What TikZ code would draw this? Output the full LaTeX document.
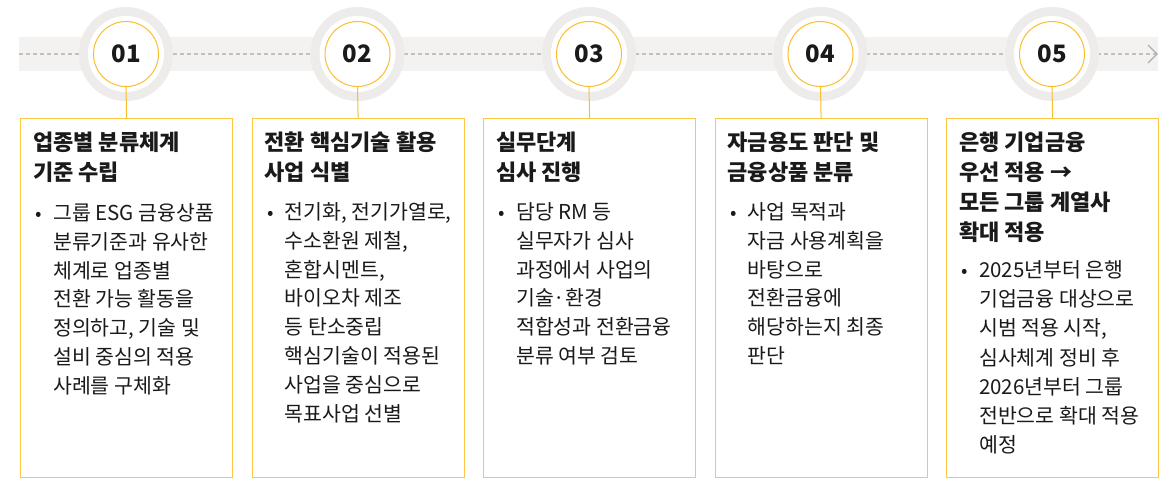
\documentclass[tikz,border=0pt]{standalone}
\usepackage{fontspec}
\setmainfont{Noto Sans CJK KR}
\definecolor{kbyellow}{HTML}{FBBE2E}
\definecolor{boxyellow}{HTML}{FDC743}
\definecolor{bandgrey}{HTML}{F3F2F0}
\definecolor{ringgrey}{HTML}{EDECEA}
\definecolor{dashgrey}{HTML}{C2C0BD}
\definecolor{txt}{HTML}{1A1A1A}
\tikzset{
  ring/.style={circle, fill=ringgrey, minimum size=94pt, inner sep=0pt},
  gap/.style={circle, fill=white, minimum size=76pt, inner sep=0pt},
  numcircle/.style={circle, draw=kbyellow, line width=1pt, fill=white, minimum size=65pt, inner sep=0pt,
    font=\fontsize{24}{24}\selectfont\bfseries, text=txt},
  stepbox/.style={rectangle, draw=boxyellow, line width=1.2pt, minimum width=212pt, minimum height=359pt, inner sep=0pt, anchor=north west},
  link/.style={draw=kbyellow, line width=1pt},
  titletext/.style={anchor=base west, align=left, inner sep=0pt, text=txt, font=\fontsize{22}{30}\selectfont\bfseries},
  bodytext/.style={anchor=base west, align=left, inner sep=0pt, text=txt, font=\fontsize{20.5}{28.8}\selectfont},
  bodytextb/.style={bodytext, font=\fontsize{20.5}{29.2}\selectfont},
  bulletmark/.style={anchor=base, inner sep=0pt, text=txt, font=\fontsize{19}{28.8}\selectfont},
  dashline/.style={draw=dashgrey, line width=1.3pt, dash pattern=on 4pt off 3pt},
  chev/.style={draw=dashgrey!90!black, line width=1.2pt}
}
\begin{document}
\begin{tikzpicture}[x=1pt,y=-1pt]
\useasboundingbox (0,0) rectangle (1174,484);
\fill[white] (0,0) rectangle (1174,484);
% band and dashed timeline
\fill[bandgrey] (19,37) rectangle (1158,71);
\coordinate (ls) at (19,54);
\coordinate (le) at (1157,54);
\coordinate (cvt) at (1148,45);
\coordinate (cvb) at (1148,63);
\draw[dashline] (ls) -- (le);
\draw[chev] (cvt) -- (le) -- (cvb);

% circles
\foreach \x/\n [count=\i] in {126/01,357.5/02,589/03,820.5/04,1052/05}{
  \node[ring] (r\i) at (\x,54) {};
  \node[gap] (g\i) at (\x,54) {};
  \node[numcircle] (c\i) at (\x,54) {\n};
}

% boxes
\node[stepbox] (b1) at (20,118) {};
\node[stepbox] (b2) at (251.5,118) {};
\node[stepbox] (b3) at (483,118) {};
\node[stepbox] (b4) at (714.5,118) {};
\node[stepbox] (b5) at (946,118) {};

\foreach \i in {1,...,5}{
  \draw[link] (c\i.south) -- (b\i.north);
}

% box 1 (base anchor = last line baseline)
\node[titletext] (t1) at (33,180) {업종별 분류체계\\기준 수립};
\node[bulletmark] (u1) at (39,220) {•};
\node[bodytext] (d1) at (53,393.3) {그룹 ESG 금융상품\\분류기준과 유사한\\체계로 업종별\\전환 가능 활동을\\정의하고, 기술 및\\설비 중심의 적용\\사례를 구체화};

% box 2
\node[titletext] (t2) at (264.5,180) {전환 핵심기술 활용\\사업 식별};
\node[bulletmark] (u2) at (270.5,219) {•};
\node[bodytext] (d2) at (284.5,421.1) {전기화, 전기가열로,\\수소환원 제철,\\혼합시멘트,\\바이오차 제조\\등 탄소중립\\핵심기술이 적용된\\사업을 중심으로\\목표사업 선별};

% box 3
\node[titletext] (t3) at (496,180) {실무단계\\심사 진행};
\node[bulletmark] (u3) at (502,219) {•};
\node[bodytext] (d3) at (516,363.5) {담당 RM 등\\실무자가 심사\\과정에서 사업의\\기술·환경\\적합성과 전환금융\\분류 여부 검토};

% box 4
\node[titletext] (t4) at (727.5,180) {자금용도 판단 및\\금융상품 분류};
\node[bulletmark] (u4) at (733.5,219) {•};
\node[bodytext] (d4) at (747.5,363.5) {사업 목적과\\자금 사용계획을\\바탕으로\\전환금융에\\해당하는지 최종\\판단};

% box 5
\node[titletext] (t5) at (959,240) {은행 기업금융\\우선 적용 →\\모든 그룹 계열사\\확대 적용};
\node[bulletmark] (u5) at (965,277.5) {•};
\node[bodytextb] (d5) at (979,452.7) {2025년부터 은행\\기업금융 대상으로\\시범 적용 시작,\\심사체계 정비 후\\2026년부터 그룹\\전반으로 확대 적용\\예정};
\end{tikzpicture}
\end{document}
